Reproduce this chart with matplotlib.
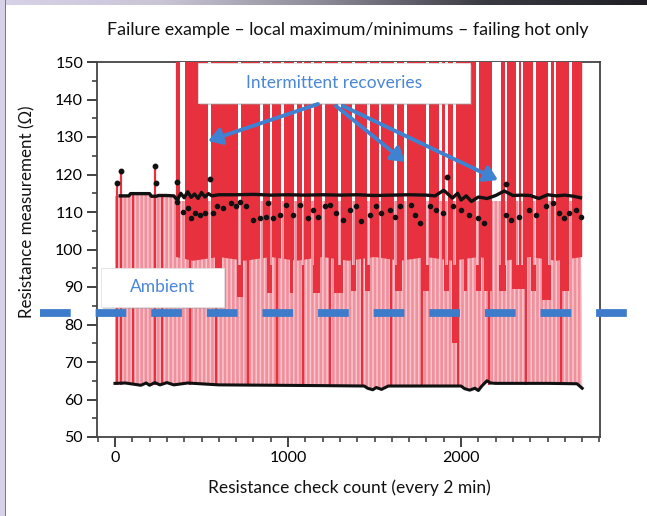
import numpy as np
import matplotlib
matplotlib.use("Agg")
import matplotlib.pyplot as plt
from matplotlib.patches import Rectangle, FancyArrowPatch
from matplotlib.ticker import MultipleLocator
from matplotlib.colors import LinearSegmentedColormap

# ---------------- data ----------------
# cold-side (minimum) resistance trace
min_x = [0, 60, 120, 150, 180, 200, 230, 260, 300, 340, 420, 600, 900, 1200, 1440, 1460,
         1490, 1510, 1540, 1580, 2000, 2020, 2050, 2080, 2100, 2120, 2150, 2170, 2200, 2500, 2670, 2700]
min_y = [64.3, 64.4, 64.0, 63.8, 64.4, 63.8, 64.5, 63.9, 64.5, 63.9, 64.4, 63.9, 63.8, 63.7, 63.6, 63.0,
         62.6, 63.2, 62.7, 63.6, 63.6, 62.9, 62.5, 63.0, 62.4, 63.6, 65.0, 64.4, 64.3, 64.3, 64.2, 63.0]

# hot-side (local maximum) trace
max_x = [0, 30, 80, 90, 150, 200, 210, 240, 250, 300, 340, 360, 380, 400, 420, 440, 460, 480, 500, 520,
         540, 560, 600, 700, 800, 900, 1000, 1100, 1200, 1300, 1400, 1500, 1600, 1700, 1800, 1850,
         1900, 1950, 1980, 2000, 2030, 2060, 2100, 2150, 2200, 2250, 2300, 2350, 2400, 2450, 2500,
         2550, 2600, 2650, 2690]
max_y = [114.3, 114.3, 114.3, 114.9, 114.9, 114.9, 114.2, 114.2, 114.4, 114.4, 114.3, 113.2, 115.0, 113.8,
         115.4, 113.9, 114.8, 113.6, 115.2, 114.0, 114.9, 114.3, 114.6, 114.6, 114.7, 114.5, 114.6,
         114.5, 114.6, 114.5, 114.6, 114.4, 114.5, 114.6, 114.5, 114.3, 115.8, 113.7, 115.0, 113.2,
         114.3, 112.8, 114.0, 113.6, 114.4, 115.6, 114.4, 114.5, 114.4, 113.6, 114.6, 114.3, 114.5,
         114.2, 113.8]

# scattered local maxima below the main hot trace
dip_x = [356, 394, 423, 442, 462, 490, 519, 567, 587, 625, 673, 702, 721, 760, 798, 837, 875, 883,
         913, 952, 991, 1029, 1068, 1115, 1144, 1173, 1212, 1241, 1279, 1318, 1356, 1395, 1424,
         1471, 1510, 1539, 1587, 1616, 1645, 1712, 1731, 1760, 1818, 1856, 1895, 1952, 2001, 2048,
         2097, 2135, 2260, 2289, 2337, 2395, 2433, 2491, 2529, 2568, 2597, 2625, 2664, 2693]
dip_y = [112.7, 110.1, 111.0, 108.3, 109.7, 109.2, 109.7, 109.7, 111.5, 111.0, 112.3, 111.5, 112.7,
         111.5, 107.9, 108.3, 108.8, 112.3, 108.3, 109.2, 111.9, 109.2, 111.9, 108.3, 110.5, 108.8,
         111.5, 111.9, 109.7, 107.9, 110.5, 111.5, 107.5, 109.2, 111.5, 109.7, 110.5, 108.8, 111.5,
         111.9, 109.2, 107.0, 111.5, 110.5, 109.7, 111.5, 110.5, 109.2, 108.3, 107.0, 109.2, 107.9,
         108.8, 110.5, 109.2, 111.5, 112.3, 109.7, 108.3, 109.7, 110.5, 108.8]

# isolated peaks above the hot trace
peak_x = [13, 33, 231, 237, 356, 548, 1916, 2262]
peak_y = [117.8, 120.9, 122.3, 117.8, 118.1, 118.8, 119.3, 117.5]

# full-swing transitions drawn darker through the pink band
swing_x = [13, 33, 103, 231, 271, 433, 583, 768, 935, 1085, 1240, 1425, 1598, 1777, 1985, 2164, 2377, 2579]
swing_top = [117.8, 120.9, 114.9, 122.3, 114.2, 114.0, 114.6, 114.6, 114.6, 114.5, 114.6, 114.5,
             114.5, 114.6, 114.0, 114.0, 114.4, 114.4]

# failing-hot (open) period and its lower edge
fail_x = [352, 450, 600, 750, 900, 1050, 1200, 1350, 1500, 1650, 1800, 1950, 2100, 2250, 2400, 2550, 2700]
fail_bottom = [98, 97, 98, 97, 98, 97, 98, 97, 98, 97, 98, 97, 98, 97, 98, 97, 98]
fail_top = 150

# open readings reaching deeper into the band
deep_x = [603, 721, 891, 1018, 1163, 1292, 1381, 1457, 1636, 1797, 1918, 1964, 2028, 2103, 2158,
          2242, 2337, 2420, 2496, 2605]
deep_w = [28, 35, 29, 17, 40, 47, 29, 28, 40, 41, 29, 29, 17, 29, 46, 40, 80, 29, 52, 40]
deep_bottom = [88.4, 87.3, 88.4, 88.4, 88.4, 88.4, 89, 89, 89, 89, 89, 75, 89, 89, 89, 89, 89.5,
               89, 86.5, 89]

# intermittent recoveries (gaps in the open period)
recov_x = [392, 548, 721, 848, 900, 969, 1044, 1085, 1143, 1206, 1298, 1379, 1466, 1529, 1621, 1679,
           1806, 1881, 1916, 1962, 2095, 2207, 2262, 2325, 2354, 2424, 2510, 2545, 2631]
recov_w = [30, 18, 15, 15, 12, 15, 15, 12, 15, 15, 15, 15, 15, 12, 15, 15, 15, 12, 12, 15, 15, 52,
           12, 15, 12, 15, 15, 12, 15]

ambient = 83

title = "Failure example \u2013 local maximum/minimums \u2013 failing hot only"
xlabel = "Resistance check count (every 2 min)"
ylabel = "Resistance measurement (\u03a9)"
xticks = [0, 1000, 2000]
yticks = [50, 60, 70, 80, 90, 100, 110, 120, 130, 140, 150]

# ---------------- style ----------------
plt.rcParams['font.family'] = ['Lato', 'DejaVu Sans']
plt.rcParams['hatch.linewidth'] = 1.1

PINK = '#f0909d'
PINK_L = '#f9c6cd'
RED = '#e7313f'
BLUE = '#3d7ccb'
TXT = '#4a86d6'

W, H = 647, 516
fig = plt.figure(figsize=(W / 100, H / 100), dpi=100)
fig.patch.set_facecolor('white')


def fx(x):
    return x / W


def fy(y):
    return 1 - y / H


# slide frame
fig.add_artist(Rectangle((0, 0), fx(5), 1, transform=fig.transFigure, facecolor='#d8d2e8',
                         edgecolor='none', zorder=0))
fig.add_artist(Rectangle((fx(5), 0), fx(1.2), 1, transform=fig.transFigure, facecolor='#7a7a88',
                         edgecolor='none', zorder=0))
gax = fig.add_axes([0, fy(5), 1, fy(0) - fy(5)], zorder=-1)
grad = np.linspace(0, 1, 256)[None, :]
cm = LinearSegmentedColormap.from_list('g', ['#d8d2e8', '#c9c5d6', '#8c8a96', '#3a3a42', '#1e1e24'])
gax.imshow(grad, aspect='auto', cmap=cm, extent=[0, 1, 0, 1])
gax.axis('off')

ax = fig.add_axes([fx(97), fy(437), fx(600) - fx(97), fy(62) - fy(437)])
ax.set_xlim(-104, 2803)
ax.set_ylim(50, 150)
ax.set_facecolor('none')

# pink band between cold and hot traces
band_x = list(min_x) + list(max_x[::-1])
band_y = list(min_y) + list(max_y[::-1])
ax.fill(band_x, band_y, facecolor=PINK, edgecolor=PINK_L, hatch='||||', linewidth=0, zorder=1)

# darker full swings
ax.vlines(swing_x, 64, swing_top, color=RED, linewidth=1.6, zorder=2)

# open (failing hot) period
fx_poly = list(fail_x) + list(fail_x[::-1])
fy_poly = list(fail_bottom) + [fail_top + 10] * len(fail_x)
ax.fill(fx_poly, fy_poly, facecolor=RED, edgecolor='none', zorder=3)
ax.bar(deep_x, [fail_top + 10 - b for b in deep_bottom], width=deep_w, bottom=deep_bottom,
       color=RED, linewidth=0, zorder=3)

# recoveries: no open reading -> background above, pink swing below
ax.bar(recov_x, [fail_top + 10 - 113] * len(recov_x), width=recov_w, bottom=113,
       color='white', linewidth=0, zorder=4)
ax.bar(recov_x, [113 - 96] * len(recov_x), width=recov_w, bottom=96,
       facecolor=PINK, edgecolor=PINK_L, hatch='||||', linewidth=0, zorder=4)

# black traces
ax.plot(min_x, min_y, color='#111111', linewidth=2.2, zorder=6)
ax.plot(max_x[1:], max_y[1:], color='#111111', linewidth=2.4, zorder=6)
ax.plot(dip_x, dip_y, linestyle='none', marker='o', markersize=3.0, color='#111111', zorder=6)
ax.plot(peak_x, peak_y, linestyle='none', marker='o', markersize=3.2, color='#111111', zorder=6)

# ambient line (extends beyond axes)
ax.plot([-0.113, 1.064], [ambient, ambient], transform=ax.get_yaxis_transform(), clip_on=False,
        color=BLUE, linewidth=5.6, solid_capstyle='butt', dash_capstyle='butt',
        dashes=(3.95, 3.2), zorder=8)

# axes styling
for s in ax.spines.values():
    s.set_color('#444444')
    s.set_linewidth(1.3)
ax.set_xticks(xticks)
ax.set_yticks(yticks)
ax.xaxis.set_minor_locator(MultipleLocator(100))
ax.yaxis.set_minor_locator(MultipleLocator(5))
ax.tick_params(which='major', direction='out', length=7, width=1.3, color='#333333',
               labelsize=11.5, pad=3, top=False, right=False)
ax.tick_params(which='minor', direction='out', length=3.5, width=1.1, color='#333333',
               top=False, right=False)

fig.text(fx(348), fy(30), title, ha='center', va='center', fontsize=12.8, color='#111111')
fig.text(fx(349), fy(488), xlabel, ha='center', va='center', fontsize=12.5, color='#111111')
fig.text(fx(27), fy(212), ylabel, ha='center', va='center', rotation=90, fontsize=12.2,
         color='#111111')


# callout boxes
def callout(x0, y0, x1, y1, label):
    fig.add_artist(Rectangle((fx(x0 + 2), fy(y1 + 2)), fx(x1 - x0), fy(y0) - fy(y1),
                             transform=fig.transFigure, facecolor='#9a9a9a', alpha=0.45,
                             edgecolor='none', zorder=9))
    fig.add_artist(Rectangle((fx(x0), fy(y1)), fx(x1 - x0), fy(y0) - fy(y1),
                             transform=fig.transFigure, facecolor='white',
                             edgecolor='#e2e2e2', linewidth=0.6, zorder=10))
    fig.text(fx((x0 + x1) / 2), fy((y0 + y1) / 2), label, ha='center', va='center',
             fontsize=12.5, color=TXT, zorder=11)


callout(198, 63, 470, 103, "Intermittent recoveries")
callout(101, 268, 224, 307, "Ambient")

for (x0, y0), (x1, y1) in [((318, 104), (208, 141)), ((336, 106), (405, 162)),
                           ((343, 106), (498, 180))]:
    fig.add_artist(FancyArrowPatch((fx(x0), fy(y0)), (fx(x1), fy(y1)),
                                   transform=fig.transFigure,
                                   arrowstyle='-|>,head_length=8,head_width=5',
                                   color='#3f82d2', linewidth=2.8, shrinkA=0, shrinkB=0,
                                   zorder=12))

fig.savefig('out.png', dpi=100, facecolor=fig.get_facecolor())
